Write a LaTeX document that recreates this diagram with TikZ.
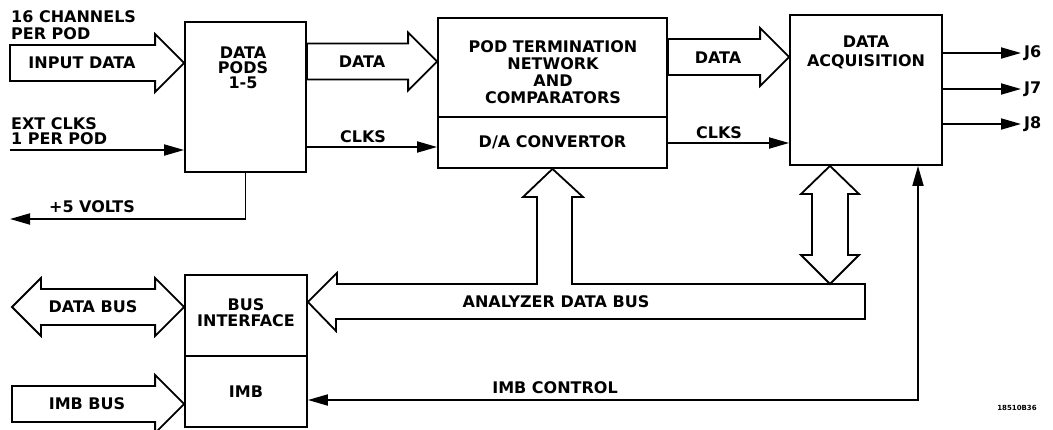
\documentclass[tikz,border=0pt]{standalone}
\usepackage{fontspec}
\setmainfont{DejaVu Sans}
\usetikzlibrary{arrows.meta}

\tikzset{
  blk/.style={draw, line width=1.8pt, inner sep=0pt},
  lbl/.style={font=\fontsize{16}{16}\selectfont\bfseries, align=center, inner sep=1pt},
  sig/.style={line width=1.8pt, -{Triangle[length=20pt,width=11pt]}},
  bus/.style={line width=1.8pt, line join=miter},
}

% fat bus arrows, body 36 wide, head 58 wide and 29 long
\newcommand\busright[2]{% #1 tail, #2 tip
  \draw[bus] ([yshift=18pt]#1) -- ([xshift=-29pt,yshift=18pt]#2) -- ([xshift=-29pt,yshift=29pt]#2) -- (#2)
    -- ([xshift=-29pt,yshift=-29pt]#2) -- ([xshift=-29pt,yshift=-18pt]#2) -- ([yshift=-18pt]#1) -- cycle;}
\newcommand\busboth[2]{% #1 left tip, #2 right tip
  \draw[bus] (#1) -- ([xshift=29pt,yshift=29pt]#1) -- ([xshift=29pt,yshift=18pt]#1) -- ([xshift=-29pt,yshift=18pt]#2)
    -- ([xshift=-29pt,yshift=29pt]#2) -- (#2) -- ([xshift=-29pt,yshift=-29pt]#2) -- ([xshift=-29pt,yshift=-18pt]#2)
    -- ([xshift=29pt,yshift=-18pt]#1) -- ([xshift=29pt,yshift=-29pt]#1) -- cycle;}

\begin{document}
\begin{tikzpicture}[x=1pt, y=-1pt]
  \useasboundingbox (0,0) rectangle (1053,429);

  % blocks
  \node[blk, minimum width=121pt, minimum height=150pt] (pods) at (245.5,97) {};
  \node[lbl, font=\fontsize{16}{15}\selectfont\bfseries] (podstxt) at (243,68) {DATA\\PODS\\1-5};

  \node[blk, minimum width=229pt, minimum height=99pt] (term) at (552.5,67.5) {};
  \node[lbl, font=\fontsize{16}{17}\selectfont\bfseries] (termtxt) at (553,72.5) {POD TERMINATION\\NETWORK\\AND\\COMPARATORS};
  \node[blk, lbl, minimum width=229pt, minimum height=51pt] (dac) at (552.5,142.5) {D/A CONVERTOR};

  \node[blk, minimum width=152pt, minimum height=150pt] (acq) at (866,90) {};
  \node[lbl, font=\fontsize{16}{19}\selectfont\bfseries] (acqtxt) at (866,52) {DATA\\ACQUISITION};

  \node[blk, minimum width=122pt, minimum height=81pt] (busif) at (246,315.5) {};
  \node[lbl] (busiftxt) at (246,313) {BUS\\INTERFACE};
  \node[blk, lbl, minimum width=122pt, minimum height=71pt] (imb) at (246,391.5) {IMB};

  % fat buses
  \busright{10,63}{pods.west |- 0,63}
  \node[lbl] (indata) at (82,63) {INPUT DATA};
  \busright{pods.east |- 0,61.5}{term.west |- 0,61.5}
  \node[lbl] (data1) at (362,62) {DATA};
  \busright{term.east |- 0,57}{acq.west |- 0,57}
  \node[lbl] (data2) at (718,58) {DATA};
  \busright{12,404}{imb.west |- 0,404}
  \node[lbl] (imbbus) at (87,404) {IMB BUS};
  \busboth{12,307}{busif.west |- 0,307}
  \node[lbl] (databus) at (93,307) {DATA BUS};

  % analyzer data bus with branch up to the D/A convertor
  \draw[bus] (busif.east |- 0,302) -- ++(29,-29) -- ++(0,11) -- (537,284) -- (537,197) -- (523,197)
    -- (dac.south) -- (583,197) -- (572,197) -- (572,284) -- (865,284) -- (865,319) -- (336,319)
    -- (336,331) -- cycle;
  \node[lbl] (anabus) at (556,302) {ANALYZER DATA BUS};
  \draw[bus] (acq.south -| 830,0) -- (859,194) -- (848,194) -- (848,255) -- (859,255) -- (830,284)
    -- (801,255) -- (812,255) -- (812,194) -- (801,194) -- cycle;

  % clocks and control lines
  \coordinate (extclk) at (10,150);
  \draw[sig] (extclk) -- (extclk -| pods.west);
  \node[lbl, anchor=west, align=left, font=\fontsize{16}{14.5}\selectfont\bfseries] (extlbl) at (10,131) {EXT CLKS\\1 PER POD};
  \node[lbl, anchor=west, align=left, font=\fontsize{16}{17}\selectfont\bfseries] (chlbl) at (10,25.5) {16 CHANNELS\\PER POD};

  \coordinate (clk1) at (306,147);
  \draw[sig] (clk1) -- (clk1 -| term.west);
  \node[lbl] (clks1) at (363,137) {CLKS};
  \coordinate (clk2) at (667,143);
  \draw[sig] (clk2) -- (clk2 -| acq.west);
  \node[lbl] (clks2) at (719,133) {CLKS};

  \coordinate (volt) at (10,219);
  \draw[sig] (pods.south) |- (volt);
  \node[lbl] (voltlbl) at (92,207) {+5 VOLTS};

  \foreach \j/\y in {6/53, 7/89, 8/124} {
    \node[lbl, anchor=west, inner sep=3pt] (j\j) at (1021,\y) {J\j};
    \draw[sig] (acq.east |- j\j) -- (j\j.west);
  }

  \coordinate (ctl) at (918,400);
  \draw[sig, {Triangle[length=20pt,width=11pt]}-{Triangle[length=20pt,width=11pt]}] (acq.south -| ctl) |- (imb.east |- ctl);
  \node[lbl] (ctllbl) at (555,388) {IMB CONTROL};

  \node[font=\fontsize{7}{7}\selectfont\bfseries, inner sep=0pt] (figno) at (1017,408) {18510B36};
\end{tikzpicture}
\end{document}
